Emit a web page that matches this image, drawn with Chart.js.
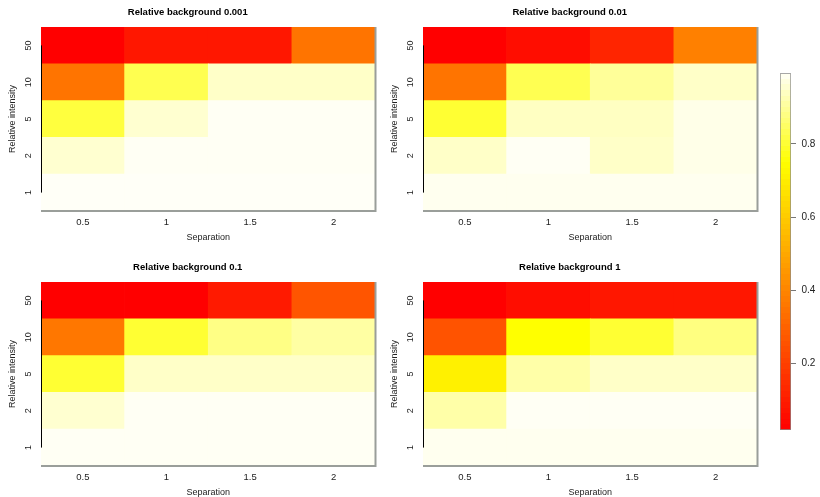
<!DOCTYPE html>
<html>
<head>
<meta charset="utf-8">
<script src="https://cdn.jsdelivr.net/npm/chart.js@4.4.0/dist/chart.umd.min.js"></script>
<style>
  body { margin: 0; background: #fff; width: 820px; height: 497px; overflow: hidden; position: relative; }
  .panel { position: absolute; width: 390px; height: 245px; }
  #bar { position: absolute; left: 770px; top: 60px; width: 50px; height: 385px; }
</style>
</head>
<body>
<div class="panel" style="left:0;top:0"><canvas id="p0"></canvas></div>
<div class="panel" style="left:382px;top:0"><canvas id="p1"></canvas></div>
<div class="panel" style="left:0;top:255px"><canvas id="p2"></canvas></div>
<div class="panel" style="left:382px;top:255px"><canvas id="p3"></canvas></div>
<div id="bar"><canvas id="cb"></canvas></div>
<script>
const separations = ['0.5', '1', '1.5', '2'];
const intensities = ['1', '2', '5', '10', '50'];
const backgrounds = ['0.001', '0.01', '0.1', '1'];

// one row per intensity (1, 2, 5, 10, 50), one column per separation
const bg0001 = [
    [0.993, 0.993, 0.993, 0.993],
    [0.954, 0.99, 0.99, 0.99],
    [0.81, 0.954, 0.99, 0.99],
    [0.35, 0.828, 0.946, 0.946],
    [0.018, 0.085, 0.085, 0.35]
];
const bg001 = [
    [0.985, 0.985, 0.985, 0.985],
    [0.946, 0.99, 0.946, 0.978],
    [0.80, 0.94, 0.94, 0.978],
    [0.35, 0.83, 0.90, 0.946],
    [0.018, 0.055, 0.125, 0.384]
];
const bg01 = [
    [0.99, 0.99, 0.99, 0.99],
    [0.954, 0.99, 0.99, 0.99],
    [0.80, 0.946, 0.946, 0.946],
    [0.36, 0.80, 0.88, 0.91],
    [0.018, 0.018, 0.092, 0.262]
];
const bg1 = [
    [0.985, 0.985, 0.985, 0.985],
    [0.915, 0.99, 0.99, 0.99],
    [0.71, 0.915, 0.946, 0.946],
    [0.255, 0.749, 0.80, 0.875],
    [0.018, 0.055, 0.085, 0.085]
];
const colorbarTicks = [0.2, 0.4, 0.6, 0.8];

const grids = [bg0001, bg001, bg01, bg1];
const allValues = grids.flat(2);
const zMin = Math.min(...allValues);
const zMax = Math.max(...allValues);

Chart.defaults.font.family = "'Liberation Sans', Arial, sans-serif";

// R style heat colours: red -> yellow, then yellow fading to white
function heatColor(v) {
    const u = Math.max(0, Math.min(1, (v - zMin) / (zMax - zMin)));
    if (u <= 0.75) {
        const g = Math.round(255 * u / 0.75);
        return `rgb(255,${g},0)`;
    }
    const s = 1 - (u - 0.75) / 0.25 * 0.97;
    return `rgb(255,255,${Math.round(255 * (1 - s))})`;
}

const framePlugin = {
    id: 'frame',
    afterDatasetsDraw(chart) {
        const { ctx, chartArea: a, scales: { y } } = chart;
        ctx.save();
        ctx.strokeStyle = '#9a9e9a';
        ctx.lineWidth = 2;
        ctx.beginPath();
        ctx.moveTo(a.right, a.top);
        ctx.lineTo(a.right, a.bottom);
        ctx.lineTo(a.left, a.bottom);
        ctx.stroke();
        ctx.strokeStyle = '#000';
        ctx.lineWidth = 1;
        ctx.beginPath();
        ctx.moveTo(a.left + 0.5, y.getPixelForValue(0.5));
        ctx.lineTo(a.left + 0.5, y.getPixelForValue(4.5));
        ctx.stroke();
        ctx.restore();
    }
};

function makePanel(id, bg, grid) {
    new Chart(document.getElementById(id), {
        type: 'bar',
        data: {
            labels: separations,
            datasets: grid.map((row, i) => ({
                label: intensities[i],
                data: row.map(() => 1),
                backgroundColor: row.map(v => heatColor(v)),
                borderWidth: 0,
                barPercentage: 1,
                categoryPercentage: 1
            }))
        },
        options: {
            responsive: true,
            maintainAspectRatio: false,
            animation: false,
            layout: { padding: { left: 0, right: 14.5, top: 0, bottom: 0 } },
            plugins: {
                legend: { display: false },
                tooltip: { enabled: false },
                title: {
                    display: true,
                    text: 'Relative background ' + bg,
                    color: '#000',
                    font: { size: 9.5, weight: 'bold' },
                    padding: { top: 7, bottom: 8.6 }
                }
            },
            scales: {
                x: {
                    stacked: true,
                    grid: { display: false, drawTicks: false },
                    border: { display: false },
                    ticks: { color: '#222', font: { size: 9.5 }, padding: 6 },
                    title: { display: true, text: 'Separation', color: '#222', font: { size: 9 }, padding: { top: 0, bottom: 2 } },
                    afterFit: s => { s.height = 34; }
                },
                y: {
                    stacked: true,
                    min: 0,
                    max: 5,
                    grid: { display: false, drawTicks: false },
                    border: { display: false },
                    afterBuildTicks: s => { s.ticks = intensities.map((_, i) => ({ value: i + 0.5 })); },
                    ticks: {
                        minRotation: 90,
                        maxRotation: 90,
                        crossAlign: 'center',
                        padding: 7,
                        color: '#222',
                        font: { size: 9 },
                        callback: (v, i) => intensities[i]
                    },
                    title: { display: true, text: 'Relative intensity', color: '#222', font: { size: 9 }, padding: { top: 7.6, bottom: 0 } },
                    afterFit: s => { s.width = 41; }
                }
            }
        },
        plugins: [framePlugin]
    });
}

grids.forEach((g, i) => makePanel('p' + i, backgrounds[i], g));

// colour key
function barGradient(chart) {
    const a = chart.chartArea;
    if (!a) return null;
    const grad = chart.ctx.createLinearGradient(0, a.bottom, 0, a.top);
    const n = 64;
    for (let k = 0; k < n; k++) {
        const c = heatColor(zMin + (zMax - zMin) * (k + 0.5) / n);
        grad.addColorStop(k / n, c);
        grad.addColorStop((k + 1) / n, c);
    }
    return grad;
}

new Chart(document.getElementById('cb'), {
    type: 'bar',
    data: {
        labels: [''],
        datasets: [{
            data: [[zMin, zMax]],
            backgroundColor: ctx => barGradient(ctx.chart),
            borderColor: '#8a8a8a',
            borderWidth: 1,
            borderSkipped: false,
            barPercentage: 1,
            categoryPercentage: 1
        }]
    },
    options: {
        responsive: true,
        maintainAspectRatio: false,
        animation: false,
        layout: { padding: { left: 10, top: 13.3, bottom: 15, right: 0 } },
        plugins: { legend: { display: false }, tooltip: { enabled: false } },
        scales: {
            x: { display: false },
            y: {
                position: 'right',
                min: zMin,
                max: zMax,
                afterBuildTicks: s => { s.ticks = colorbarTicks.map(v => ({ value: v })); },
                grid: { drawOnChartArea: false, drawTicks: true, tickLength: 5, color: '#777' },
                border: { display: false },
                ticks: { padding: 5.5, color: '#222', font: { size: 10 }, callback: v => v.toFixed(1) },
                afterFit: s => { s.width = 29; }
            }
        }
    }
});
</script>
</body>
</html>
